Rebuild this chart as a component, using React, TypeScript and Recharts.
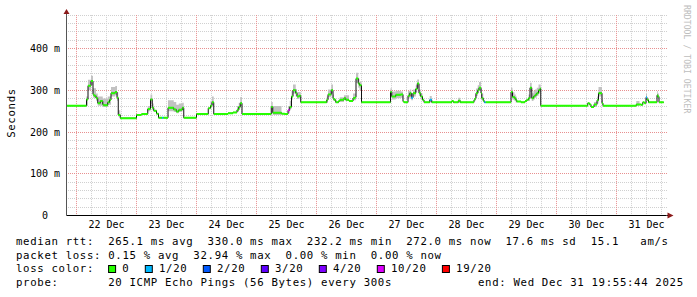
import React from 'react';
import { ComposedChart, Line, Area, XAxis, YAxis, CartesianGrid, ReferenceDot } from 'recharts';

// time axis: hours relative to 22 Dec 00:00; graph spans ~21 Dec 20:00 .. 31 Dec 20:00 (10 days)
const START_H = -4.0;
const END_H = 236.0;

const dayLabels = ['22 Dec', '23 Dec', '24 Dec', '25 Dec', '26 Dec', '27 Dec', '28 Dec', '29 Dec', '30 Dec', '31 Dec'];
const dayLabelHours = [12, 36, 60, 84, 108, 132, 156, 180, 204, 228];
const yTicks = [0, 100, 200, 300, 400];
const yTickLabels = ['  0  ', '100 m', '200 m', '300 m', '400 m'];

// median rtt (ms): each value holds from its hour until the next hour
const rttHours = [
  -4.0, 4.0, 4.6, 5.8, 6.6, 7.0, 7.8, 8.5, 9.5, 10.5, 10.9, 12.5, 13.2, 13.8, 15.5, 16.2, 16.7, 17.5,
  24.0, 26.0, 28.5, 29.6, 30.3, 30.9, 32.0, 32.8, 34.2, 34.7, 36.6, 38.9, 39.9, 40.9, 42.3, 42.9,
  48.0, 52.7, 53.6, 54.2, 54.9, 60.6, 62.6, 64.2, 64.9, 65.5, 66.2,
  77.9, 78.5, 82.0, 83.3, 84.6, 85.3, 86.0, 86.6, 87.7, 88.2, 89.0, 89.7,
  100.1, 100.6, 101.9, 102.6, 103.0, 103.7, 104.8, 105.3, 107.0, 107.7, 109.0, 110.6, 111.4, 111.8, 112.7, 113.2, 114.0,
  125.6, 126.1, 127.7, 129.7, 130.6, 131.0, 132.6, 133.3, 133.9, 134.6, 135.7, 136.3, 137.0, 137.7, 138.4, 139.0, 141.3, 142.1,
  150.1, 150.8, 152.7, 153.5, 159.0, 159.4, 159.8, 160.5, 161.0, 161.8, 162.1, 162.7, 163.1, 163.6,
  173.8, 174.4, 175.2, 175.7, 176.1, 177.8, 179.4, 180.1, 180.8, 181.4, 182.1, 182.8, 183.4, 184.1, 184.8, 185.4, 185.7,
  204.5, 205.2, 205.8, 207.0, 208.2, 208.8, 210.2, 210.6,
  223.9, 225.8, 226.5, 227.2, 227.8, 228.2, 228.8, 232.2, 232.5, 233.0, 234.9,
];
const rttValues = [
  263, 278, 311, 322, 290, 287, 281, 269, 274, 266, 264, 271, 277, 293, 296, 282, 241, 233,
  241, 243, 255, 278, 258, 251, 244, 234, 234, 234, 258, 254, 249, 253, 258, 234,
  243, 257, 263, 271, 243, 245, 247, 253, 260, 269, 243,
  260, 246, 244, 243, 252, 260, 285, 300, 293, 285, 287, 271,
  277, 290, 300, 281, 277, 271, 274, 277, 281, 277, 274, 281, 283, 328, 316, 312, 271,
  296, 285, 289, 290, 273, 271, 287, 293, 282, 293, 303, 316, 293, 285, 277, 271, 277, 271,
  274, 271, 275, 271, 277, 281, 293, 300, 306, 293, 281, 275, 271, 271,
  296, 284, 281, 277, 273, 271, 274, 277, 281, 306, 281, 285, 289, 293, 300, 304, 263,
  269, 266, 260, 266, 276, 293, 269, 263,
  266, 265, 271, 269, 283, 277, 271, 288, 285, 271, 271,
];

// segments with packet loss (start hour) and their loss-colour index
const lossStartHours = [34.2, 84.6, 133.9, 141.3, 163.1, 227.8];
const lossLevelIdx = [1, 5, 1, 1, 1, 1];

// smoke (spread of the 20 pings); null closes a smoke band
const smokeHours = [
  3.9, 4.6, 5.8, 6.6, 7.8, 8.5, 10.5, 12.5, 13.8, 15.5, 16.2, 16.7, 17.5,
  28.5, 29.6, 30.3, 30.9,
  36.6, 38.9, 39.9, 40.9, 42.3, 42.9,
  53.6, 54.2, 54.9,
  64.2, 64.9, 65.5, 66.2,
  77.9, 78.5, 82.0,
  84.6, 85.3, 86.0, 86.6, 87.7, 88.2, 89.0, 89.7,
  100.1, 100.6, 101.9, 102.6, 103.0,
  105.3, 107.0, 109.0,
  110.6, 111.8, 112.7, 113.2, 114.0,
  125.6, 126.1, 127.7, 129.7, 130.6,
  132.6, 133.3, 133.9, 134.6, 135.7, 136.3, 137.0, 137.7, 138.4,
  141.3, 142.1,
  152.7, 153.5,
  159.4, 159.8, 160.5, 161.0, 161.8, 162.1, 162.7,
  173.8, 174.4, 175.2, 175.7, 176.1,
  180.8, 181.4, 182.1, 182.8, 183.4, 184.1, 184.8, 185.4, 185.7,
  207.0, 208.2, 208.8, 210.2, 210.6,
  223.9, 225.2,
  227.8, 228.2,
  232.2, 232.5, 233.0,
];
const smokeLow = [
  262, 300, 312, 282, 275, 263, 260, 265, 285, 288, 275, 237, null,
  250, 268, 252, null,
  250, 248, 245, 248, 252, null,
  257, 264, null,
  248, 254, 262, null,
  252, 241, null,
  245, 255, 278, 292, 285, 279, 280, null,
  270, 283, 292, 275, null,
  272, 276, null,
  276, 318, 306, 300, null,
  285, 278, 281, 282, null,
  280, 285, 276, 285, 295, 306, 286, 278, null,
  271, null,
  270, null,
  275, 286, 293, 298, 286, 276, null,
  285, 277, 274, 270, null,
  274, 296, 274, 278, 282, 286, 292, 296, null,
  260, 268, 285, 264, null,
  262, null,
  277, null,
  282, 280, null,
];
const smokeHigh = [
  285, 325, 335, 305, 292, 285, 280, 285, 308, 310, 295, 252, null,
  262, 290, 268, null,
  276, 272, 265, 268, 270, null,
  275, 285, null,
  262, 270, 284, null,
  272, 262, null,
  262, 275, 298, 314, 303, 296, 296, null,
  285, 302, 314, 290, null,
  283, 288, null,
  292, 342, 328, 320, null,
  305, 297, 299, 297, null,
  298, 302, 293, 302, 312, 326, 302, 293, null,
  286, null,
  282, null,
  290, 304, 312, 320, 303, 292, null,
  306, 295, 290, 285, null,
  290, 318, 293, 298, 302, 306, 314, 314, null,
  272, 285, 308, 278, null,
  274, null,
  291, null,
  298, 292, null,
];

const lossLabels = ['0', '1/20', '2/20', '3/20', '4/20', '10/20', '19/20'];
const lossColors = ['#26ff00', '#00b8ff', '#0059ff', '#5e00ff', '#7e00ff', '#dd00ff', '#ff0000'];

const statLine1 = 'median rtt:  265.1 ms avg  330.0 ms max  232.2 ms min  272.0 ms now  17.6 ms sd  15.1   am/s';
const statLine2 = 'packet loss: 0.15 % avg  32.94 % max  0.00 % min  0.00 % now';
const lossTitle = 'loss color:';
const probeLine = 'probe:       20 ICMP Echo Pings (56 Bytes) every 300s';
const endLine = 'end: Wed Dec 31 19:55:44 2025';

// ---- tables built from the arrays above ----
const segLoss = rttHours.map((h) => {
  const k = lossStartHours.indexOf(h);
  return k >= 0 ? lossLevelIdx[k] : 0;
});
const stepData = rttHours.map((h, i) => ({ h, v: rttValues[i] }));
function segData(level: number) {
  const out: { h: number; v: number | null }[] = [];
  for (let i = 0; i < rttHours.length - 1; i++) {
    if (segLoss[i] !== level) continue;
    out.push({ h: rttHours[i], v: rttValues[i] });
    out.push({ h: rttHours[i + 1], v: rttValues[i] });
    out.push({ h: rttHours[i + 1], v: null });
  }
  return out;
}
const usedLevels = Array.from(new Set(segLoss)).sort((a, b) => a - b);
const smokeData: { h: number; r: number[] | null }[] = [];
smokeHours.forEach((h, i) => {
  const lo = smokeLow[i];
  const hi = smokeHigh[i];
  if (lo == null || hi == null) {
    const prev = smokeData[smokeData.length - 1];
    smokeData.push({ h, r: prev ? prev.r : null });
    smokeData.push({ h, r: null });
  } else {
    smokeData.push({ h, r: [lo, hi] });
  }
});

const minorY: number[] = [];
const majorY: number[] = [];
for (let v = 20; v <= 480; v += 20) (v % 100 === 0 ? majorY : minorY).push(v);
const minorX: number[] = [];
const majorX: number[] = [];
for (let h = 0; h < END_H; h += 6) (h % 24 === 0 ? majorX : minorX).push(h);

const MONO = '"DejaVu Sans Mono", monospace';

const YTick = (props: any) => {
  const { x, y, payload } = props;
  const i = yTicks.indexOf(payload.value);
  return (
    <text x={x} y={y} dy="0.36em" textAnchor="end" fontFamily={MONO} fontSize={10} fill="#000"
      xmlSpace="preserve" style={{ whiteSpace: 'pre' }}>
      {yTickLabels[i]}
    </text>
  );
};
const XTick = (props: any) => {
  const { x, y, payload } = props;
  const i = dayLabelHours.indexOf(payload.value);
  return (
    <text x={x} y={y + 12.5} textAnchor="middle" fontFamily={MONO} fontSize={10} fill="#000">
      {dayLabels[i]}
    </text>
  );
};

const ArrowRight = (p: any) => (
  <g>
    <line x1={p.cx} y1={p.cy} x2={p.cx + 3} y2={p.cy} stroke="#000" />
    <path d={`M${p.cx + 1},${p.cy - 3} L${p.cx + 7},${p.cy} L${p.cx + 1},${p.cy + 3} Z`} fill="#8b1a1a" />
  </g>
);
const ArrowUp = (p: any) => (
  <g>
    <line x1={p.cx} y1={p.cy} x2={p.cx} y2={p.cy - 3} stroke="#555" />
    <path d={`M${p.cx - 3},${p.cy - 1} L${p.cx},${p.cy - 6} L${p.cx + 3},${p.cy - 1} Z`} fill="#8b1a1a" />
  </g>
);

const CW = 7.1;
const LX = 16;

export default function App() {
  const squares: { x: number; color: string; label: string }[] = [];
  let sx = LX + 13 * CW - 0.2;
  lossLabels.forEach((lab, i) => {
    squares.push({ x: sx, color: lossColors[i], label: lab });
    sx += (lab.length + 4) * CW + 1.2;
  });
  const textStyle: React.CSSProperties = { whiteSpace: 'pre' };
  return (
    <div style={{ position: 'absolute', left: 0, top: 0, width: 697, height: 297, background: '#fff', overflow: 'hidden' }}>
      <style>{'.recharts-cartesian-grid-horizontal line{shape-rendering:crispEdges;stroke-dashoffset:0.5}'}</style>
      <ComposedChart width={697} height={297} margin={{ top: 15.1, right: 30.5, bottom: 61.5, left: 0 }}>
        <CartesianGrid horizontalValues={minorY} verticalValues={minorX} stroke="#d0d0d0" strokeDasharray="1 1" />
        <CartesianGrid horizontalValues={majorY} verticalValues={majorX} stroke="#e89090" strokeDasharray="1 1" />
        <XAxis type="number" dataKey="h" domain={[START_H, END_H]} ticks={dayLabelHours} interval={0}
          tick={<XTick />} tickLine={false} tickSize={0} tickMargin={0} axisLine={{ stroke: '#000' }} height={20} allowDataOverflow />
        <YAxis type="number" domain={[0, 480]} ticks={yTicks} interval={0} tick={<YTick />} tickLine={false}
          tickSize={0} tickMargin={6.5} axisLine={{ stroke: '#555' }} width={66.5} allowDataOverflow />
        <Area data={smokeData} dataKey="r" type="stepAfter" fill="#c2c2c2" fillOpacity={1} stroke="none"
          isAnimationActive={false} connectNulls={false} dot={false} activeDot={false} />
        <Line data={stepData} dataKey="v" type="stepAfter" stroke="#111" strokeWidth={1} dot={false}
          activeDot={false} isAnimationActive={false} />
        {usedLevels.map((lv) => (
          <Line key={lv} data={segData(lv)} dataKey="v" type="linear" stroke={lossColors[lv]} strokeWidth={2}
            dot={false} activeDot={false} connectNulls={false} isAnimationActive={false} />
        ))}
        <ReferenceDot x={END_H} y={0} r={0} ifOverflow="visible" shape={ArrowRight} />
        <ReferenceDot x={START_H} y={480} r={0} ifOverflow="visible" shape={ArrowUp} />
      </ComposedChart>
      <svg width={697} height={297} style={{ position: 'absolute', left: 0, top: 0, pointerEvents: 'none' }}>
        <text x={14.5} y={113} transform="rotate(-90 14.5 113)" textAnchor="middle" fontFamily={MONO}
          fontSize={10.7} letterSpacing={0.66} fill="#000">Seconds</text>
        <text x={684} y={5} transform="rotate(90 684 5)" textAnchor="start" fontFamily={MONO}
          fontSize={8.1} letterSpacing={0.05} fill="#bdbdbd">RRDTOOL / TOBI OETIKER</text>
        <g fontFamily={MONO} fontSize={10.7} letterSpacing={0.66} fill="#000">
          <text x={LX} y={245} xmlSpace="preserve" style={textStyle}>{statLine1}</text>
          <text x={LX} y={258.7} xmlSpace="preserve" style={textStyle}>{statLine2}</text>
          <text x={LX} y={272.3} xmlSpace="preserve" style={textStyle}>{lossTitle}</text>
          {squares.map((s, i) => (
            <g key={i}>
              <rect x={s.x + 0.5} y={265.5} width={7} height={7} fill={s.color} stroke="#000" strokeWidth={1} />
              <text x={s.x + 2 * CW} y={272.3}>{s.label}</text>
            </g>
          ))}
          <text x={LX} y={286} xmlSpace="preserve" style={textStyle}>{probeLine}</text>
          <text x={478} y={286} xmlSpace="preserve" style={textStyle}>{endLine}</text>
        </g>
      </svg>
    </div>
  );
}
